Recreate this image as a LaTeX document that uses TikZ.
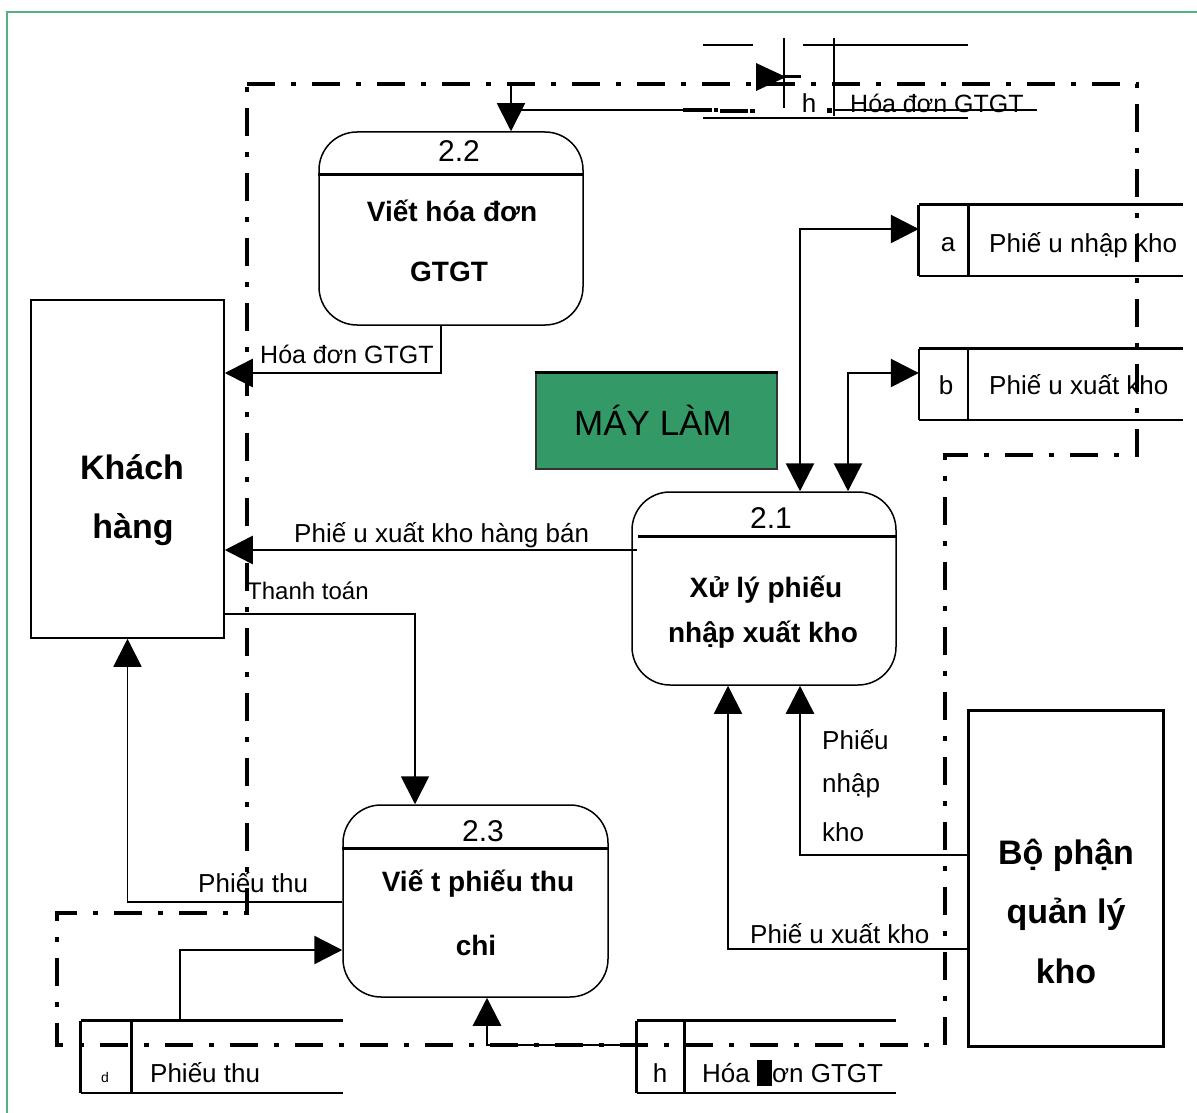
\documentclass[tikz,border=0pt]{standalone}
\usepackage{fontspec}
\setmainfont{Liberation Sans}
\usetikzlibrary{arrows.meta}
\definecolor{framegreen}{RGB}{84,178,124}
\definecolor{maygreen}{RGB}{51,153,102}
\newcommand\labfont{\fontsize{26}{30}\selectfont}
\newcommand\numfont{\fontsize{30}{33}\selectfont}
\newcommand\procfont{\fontsize{28}{31}\selectfont\bfseries}
\newcommand\entfont{\fontsize{34}{38}\selectfont\bfseries}
\newcommand\mayfont{\fontsize{35}{38}\selectfont}
\begin{document}
\begin{tikzpicture}[x=1pt,y=-1pt,
  proc/.style={draw, line width=1.5pt, rounded corners=38pt, inner sep=0pt},
  ent/.style={draw, inner sep=0pt},
  ghost/.style={inner sep=0pt},
  txt/.style={inner sep=0pt},
  lbl/.style={inner sep=0pt, anchor=west, font=\labfont},
  flow/.style={line width=2.5pt, -{Triangle[length=28pt,width=28pt]}},
  thinflow/.style={line width=1.8pt, -{Triangle[length=28pt,width=28pt]}},
  bothflow/.style={line width=2.5pt, {Triangle[length=28pt,width=28pt]}-{Triangle[length=28pt,width=28pt]}},
  boundary/.style={line width=3.8pt, dash pattern=on 28pt off 16pt on 5pt off 16pt},
  divider/.style={line width=3pt},
  storetop/.style={line width=3pt},
  storebot/.style={line width=1.8pt}
]
\useasboundingbox (0,0) rectangle (1197,1113);
% outer frame
\draw[framegreen, line width=2pt] (7,1113) -- (7,12) -- (1197,12);

% system boundary
\draw[boundary] (247,84) -- (1137,84) -- (1137,455) -- (945,455) -- (945,1045) -- (57,1045) -- (57,913) -- (247,913) -- cycle;

% entities
\node[ent, line width=1.5pt, minimum width=193pt, minimum height=338pt] (kh) at (127.5,469) {};
\node[txt, font=\entfont] (kh1) at (132,467) {Khách};
\node[txt, font=\entfont] (kh2) at (133,530) {hàng};

\node[ent, line width=3pt, minimum width=195pt, minimum height=336pt] (bp) at (1065.5,878) {};
\node[txt, font=\entfont] (bp1) at (1066,855) {Bộ phận};
\node[txt, font=\entfont] (bp2) at (1066,914) {quản lý};
\node[txt, font=\entfont] (bp3) at (1066,971) {kho};

% processes
\node[proc, minimum width=264pt, minimum height=193pt] (p22) at (451,228.5) {};
\draw[divider] (p22.west |- 0,175) -- (p22.east |- 0,175);
\node[txt, font=\numfont] (p22n) at (459,151) {2.2};
\node[txt, font=\procfont] (p22a) at (452,211) {Viết hóa đơn};
\node[txt, font=\procfont] (p22b) at (449,272) {GTGT};

\node[proc, minimum width=264pt, minimum height=193pt] (p21) at (764,588.5) {};
\draw[divider] (638,536) -- (p21.east |- 0,536);
\node[txt, font=\numfont] (p21n) at (771,518) {2.1};
\node[txt, font=\procfont] (p21a) at (766,590) {Xử lý phiếu};
\node[txt, font=\procfont] (p21b) at (763,635) {nhập xuất kho};

\node[proc, minimum width=265pt, minimum height=192pt] (p23) at (475.5,901) {};
\draw[divider] (p23.west |- 0,848) -- (p23.east |- 0,848);
\node[txt, font=\numfont] (p23n) at (483,831) {2.3};
\node[txt, font=\procfont] (p23a) at (478,884) {Viế t phiếu thu};
\node[txt, font=\procfont] (p23b) at (476,945) {chi};

% MAY LAM box
\node[draw=black!80, line width=1.5pt, fill=maygreen, minimum width=241pt, minimum height=96pt, inner sep=0pt] (may) at (656.5,421) {};
\draw[line width=3pt] (may.north west) -- (may.north east);
\node[txt, font=\mayfont] (mayt) at (653,420) {MÁY LÀM};

% data stores
\node[ghost, minimum width=264pt, minimum height=71pt] (sa) at (1051,240.5) {};
\draw[storetop] (sa.north west) -- (sa.north east);
\draw[storebot] (sa.south west) -- (sa.south east);
\draw[divider] (sa.north west) -- (sa.south west);
\draw[divider] (968,205) -- (968,276);
\node[txt, font=\labfont] (sat) at (948,245) {a};
\node[lbl] (sal) at (989,245) {Phiế u nhập kho};

\node[ghost, minimum width=264pt, minimum height=71pt] (sb) at (1051,384.5) {};
\draw[storetop] (sb.north west) -- (sb.north east);
\draw[storebot] (sb.south west) -- (sb.south east);
\draw[storebot] (sb.north west) -- (sb.south west);
\draw[storebot] (968,349) -- (968,420);
\node[txt, font=\labfont] (sbt) at (946,385) {b};
\node[lbl] (sbl) at (989,385) {Phiế u xuất kho};

\node[ghost, minimum width=262pt, minimum height=72pt] (sd) at (212,1057) {};
\draw[storetop] (sd.north west) -- (sd.north east);
\draw[storebot] (sd.south west) -- (sd.south east);
\draw[divider] (sd.north west) -- (sd.south west);
\draw[divider] (131,1021) -- (131,1093);
\node[txt, font=\fontsize{14}{16}\selectfont] (sdt) at (105,1077) {d};
\node[lbl] (sdl) at (150,1073) {Phiếu thu};

\node[ghost, minimum width=259pt, minimum height=72pt] (sh) at (766.5,1057) {};
\draw[storetop] (sh.north west) -- (sh.north east);
\draw[storebot] (sh.south west) -- (sh.south east);
\draw[divider] (sh.north west) -- (sh.south west);
\draw[divider] (684,1021) -- (684,1093);
\node[txt, font=\labfont] (sht) at (660,1073) {h};
\node[lbl] (shl) at (702,1073) {Hóa \rule[-4pt]{15pt}{26pt}ơn GTGT};

% broken store h at top
\draw[line width=2pt] (703,45) -- (753,45) (803,45) -- (968,45);
\draw[line width=2pt] (703,118) -- (968,118);
\draw[line width=2pt] (784,38) -- (784,108);
\draw[line width=2pt] (834,38) -- (834,116);
\fill (756,63) -- (786,77) -- (756,91) -- cycle;
\draw[line width=3pt] (784,77) -- (801,77);
\node[txt, font=\labfont] (tht) at (809,103) {h};
\fill (826.5,108.5) rectangle (831.5,113.5);
\node[lbl, font=\fontsize{25}{28}\selectfont] (thl) at (850,103) {Hóa đơn GTGT};
\draw[line width=1.6pt] (835,110) -- (1037,110);

% flow into 2.2 from top store
\coordinate (topin) at (511,86);
\draw[thinflow] (topin) -- ([xshift=60pt]p22.north);
\draw[line width=1.5pt] (511,110) -- (683,110);
\draw[line width=3.5pt] (683,110) -- (712,110) (714,110) -- (718,110) (720,111) -- (748,111) (750,111) -- (755,111);

% flows
\draw[flow] ([xshift=-10pt]p22.south) |- (kh.east |- 0,373);
\node[lbl, font=\fontsize{25}{28}\selectfont] (l1) at (260,354) {Hóa đơn GTGT};

\draw[flow] ([xshift=6pt]p21.west |- 0,550) -- (kh.east |- 0,550);
\node[lbl] (l2) at (294,535) {Phiế u xuất kho hàng bán};

\draw[thinflow] (kh.east |- 0,614) -| ([xshift=-60.5pt]p23.north);
\node[lbl, font=\fontsize{24}{28}\selectfont] (l3) at (247,591) {Thanh toán};

\draw[thinflow] (p23.west |- 0,902) -| (kh.south);
\node[lbl] (l4) at (198,883) {Phiếu thu};

\draw[flow] (sd.north -| 180,0) |- (p23.west |- 0,950);

\draw[flow] (sh.west |- 0,1045) -| ([xshift=11.5pt]p23.south);

\draw[flow] (bp.west |- 0,855) -| ([xshift=36pt]p21.south);
\node[lbl] (l5a) at (822,740) {Phiếu};
\node[lbl] (l5b) at (822,786) {nhập};
\node[lbl] (l5c) at (822,832) {kho};

\draw[thinflow] (bp.west |- 0,949) -| ([xshift=-36pt]p21.south);
\node[lbl] (l6) at (750,934) {Phiế u xuất kho};

\draw[bothflow] ([xshift=36pt]p21.north) |- (sa.west |- 0,229);
\draw[bothflow] ([xshift=84pt]p21.north) |- (sb.west |- 0,373);
\end{tikzpicture}
\end{document}
